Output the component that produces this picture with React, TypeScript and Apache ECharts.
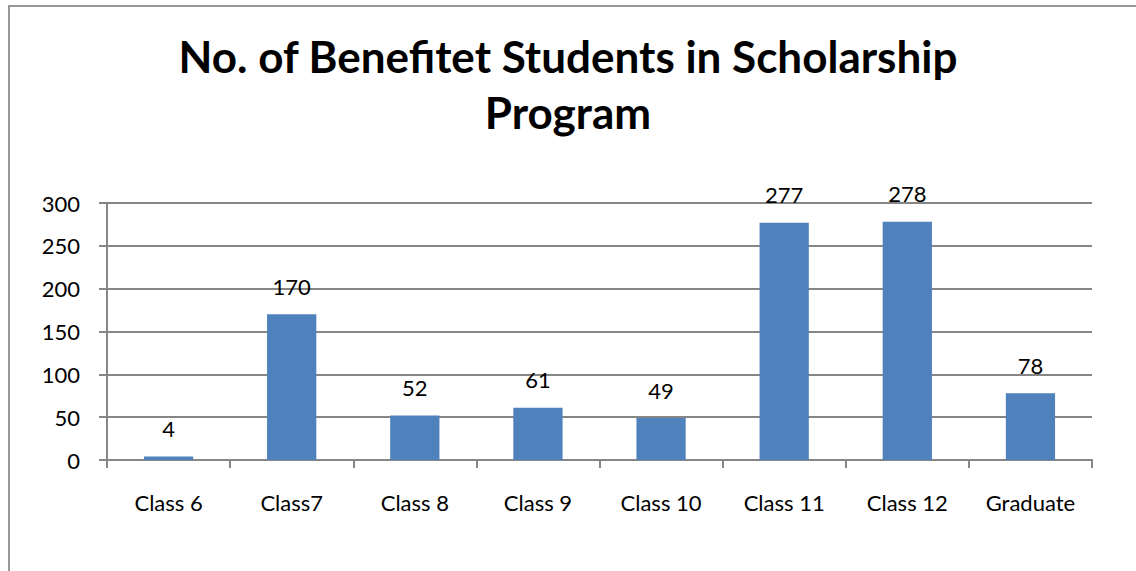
import React, { useEffect, useRef } from "react";
import * as echarts from "echarts";

const categories = ["Class 6", "Class7", "Class 8", "Class 9", "Class 10", "Class 11", "Class 12", "Graduate"];
const students = [4, 170, 52, 61, 49, 277, 278, 78];
const yTicks = { min: 0, max: 300, interval: 50 };
const titleText = "No. of Benefitet Students in Scholarship\nProgram";

export default function App() {
  const ref = useRef<HTMLDivElement>(null);
  useEffect(() => {
    if (!ref.current) return;
    const chart = echarts.init(ref.current, null, { renderer: "svg" });
    const gray = "#868686";
    chart.setOption({
      animation: false,
      backgroundColor: "#ffffff",
      title: {
        text: titleText,
        left: "center",
        top: 23,
        textStyle: {
          fontFamily: "Lato",
          fontWeight: "bold",
          fontSize: 44,
          lineHeight: 56,
          color: "#000",
        },
      },
      graphic: [
        {
          type: "rect",
          shape: { x: 9, y: 6, width: 1300, height: 800 },
          style: { fill: "none", stroke: "#999999", lineWidth: 2 },
          silent: true,
        },
      ],
      grid: { left: 107, right: 44, top: 203, bottom: 111, containLabel: false },
      xAxis: {
        type: "category",
        data: categories,
        boundaryGap: true,
        axisLine: { lineStyle: { color: gray, width: 2 } },
        axisTick: { show: true, length: 8, lineStyle: { color: gray, width: 2 }, alignWithLabel: false },
        axisLabel: { color: "#000", fontFamily: "Lato", fontSize: 22, margin: 31 },
      },
      yAxis: {
        type: "value",
        min: yTicks.min,
        max: yTicks.max,
        interval: yTicks.interval,
        axisLine: { show: true, lineStyle: { color: gray, width: 2 } },
        axisTick: { show: true, length: 8, lineStyle: { color: gray, width: 2 } },
        splitLine: { show: true, lineStyle: { color: gray, width: 2 } },
        axisLabel: { color: "#000", fontFamily: "Lato", fontSize: 22, margin: 27 },
      },
      series: [
        {
          type: "bar",
          data: students,
          barWidth: "40%",
          itemStyle: { color: "#4f81bd" },
          label: {
            show: true,
            position: "top",
            distance: 17,
            color: "#000",
            fontFamily: "Lato",
            fontSize: 22,
          },
        },
      ],
    });
    return () => chart.dispose();
  }, []);
  return (
    <div
      ref={ref}
      style={{ position: "fixed", left: 0, top: 0, width: 1136, height: 571 }}
    />
  );
}
